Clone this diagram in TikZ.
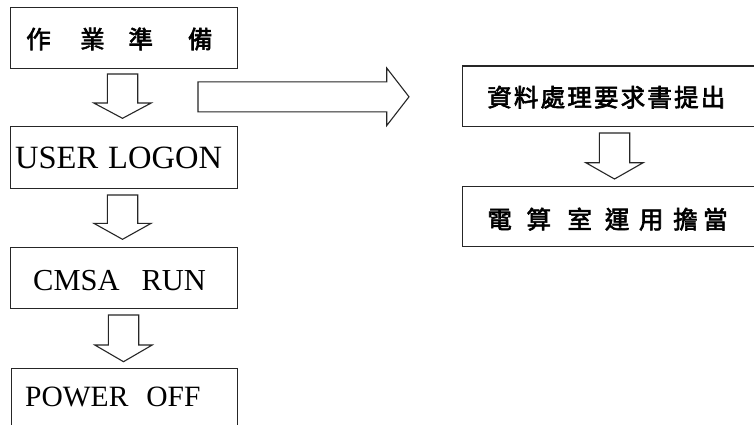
\documentclass[tikz,border=0pt]{standalone}
\usepackage{fontspec}
\setmainfont{Liberation Serif}
\newfontfamily\cjk{Noto Sans CJK TC}[FakeBold=2.5]
\newcommand\blkdown[4]{%
  \draw[blk] (#1-15.2,#2) -- (#1+15.2,#2) -- (#1+15.2,#3) -- (#1+28.7,#3)
    -- (#1,#4) -- (#1-28.7,#3) -- (#1-15.2,#3) -- cycle;}
\newcommand\gp[1]{\hspace{#1pt}}
\begin{document}
\begin{tikzpicture}[x=1pt,y=-1pt,
  box/.style={draw=black!85, line width=1.1pt, inner sep=0pt, rectangle},
  blk/.style={draw=black!85, line width=1.1pt, line join=miter, fill=white},
  lat/.style={inner sep=0pt, anchor=base west, text=black},
  cj/.style={inner sep=0pt, anchor=base west, text=black, font=\cjk\fontsize{24.5}{25}\selectfont}]
\useasboundingbox (0,0) rectangle (754,424);
\clip (0,0) rectangle (754,424);
\fill[white] (0,0) rectangle (754,424);
% left column boxes
\node[box, minimum width=226.6pt, minimum height=61pt] (b1) at (124,37.8) {};
\node[box, minimum width=226.4pt, minimum height=61.6pt] (b2) at (123.9,157.5) {};
\node[box, minimum width=227pt, minimum height=60.6pt] (b3) at (124.2,278) {};
\node[box, minimum width=225.6pt, minimum height=80pt] (b4) at (124.5,408.3) {};
% right column boxes (run off the right edge)
\node[box, minimum width=337.3pt, minimum height=60.7pt] (r1) at (631.35,96.35) {};
\node[box, minimum width=337.3pt, minimum height=60pt] (r2) at (631.35,216.7) {};
% texts
\node[cj] (t1) at (26,48.3) {作\gp{29.5}業\gp{23.8}準\gp{35}備};
\node[lat, font=\fontsize{32.5}{33}\selectfont] (t2) at (15,168.3) {USER\gp{10}LOGON};
\node[lat, font=\fontsize{30.5}{31}\selectfont] (t3) at (33,290) {CMSA\gp{22}RUN};
\node[lat, font=\fontsize{29.5}{30}\selectfont] (t4) at (25,406.7) {POWER\gp{18}OFF};
\node[cj] (t5) at (487,106.5) {資\gp{2.2}料\gp{2.2}處\gp{2.2}理\gp{2.2}要\gp{2.2}求\gp{2.2}書\gp{2.2}提\gp{2.2}出};
\node[cj] (t6) at (487.2,228.5) {電\gp{14.6}算\gp{16.4}室\gp{13}運\gp{9.6}用\gp{9.7}擔\gp{5.5}當};
% block arrows
\blkdown{122.5}{74}{103}{118.3}
\blkdown{122.5}{195}{223.3}{239.3}
\blkdown{123.5}{315}{345}{361.7}
\blkdown{614.5}{133}{162.7}{179}
\draw[blk] (198,81.8) -- (386.7,81.8) -- (386.7,68) -- (409,96.8)
  -- (386.7,125.6) -- (386.7,111.8) -- (198,111.8) -- cycle;
\end{tikzpicture}
\end{document}
